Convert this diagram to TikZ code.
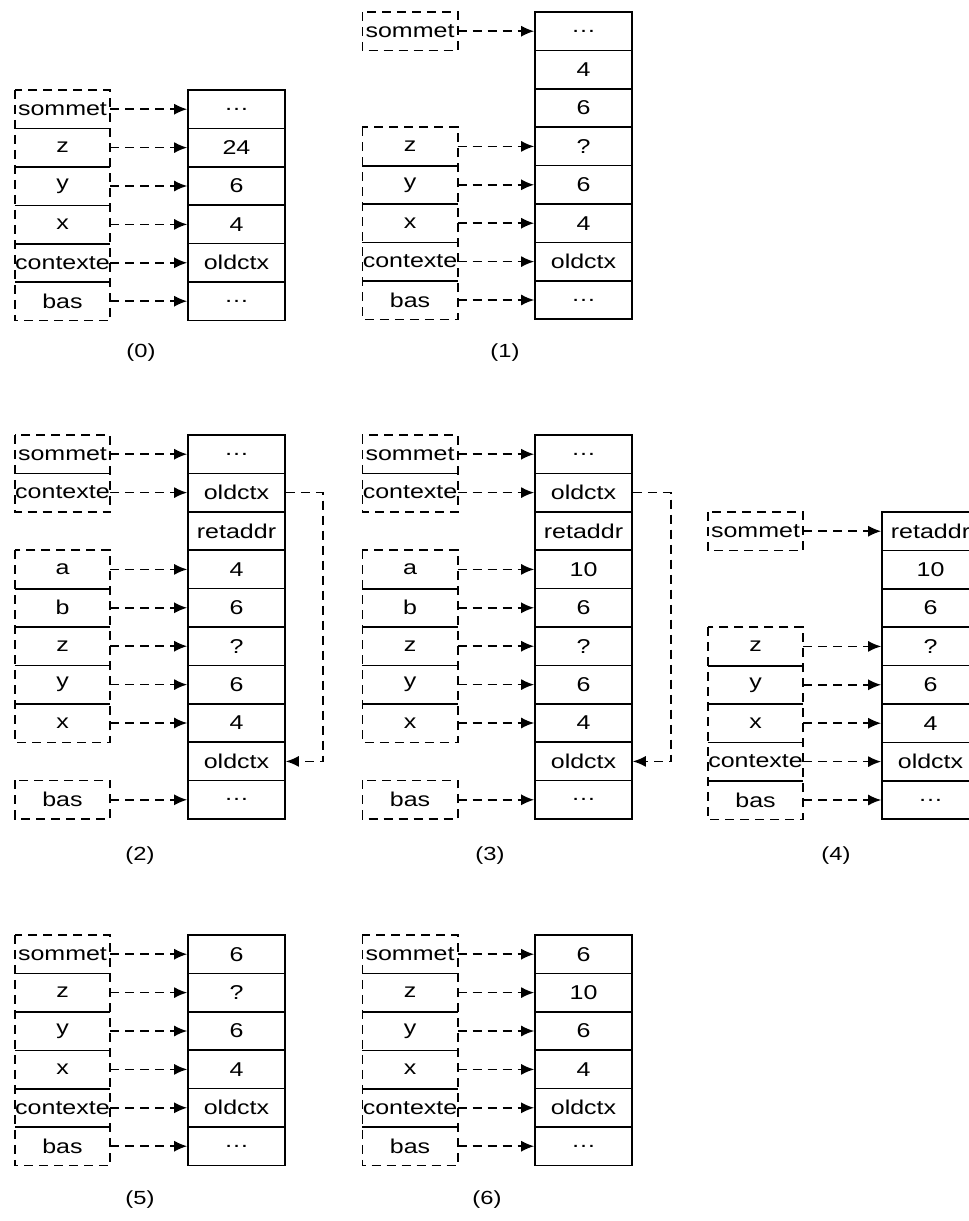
\documentclass[tikz,border=0pt]{standalone}
\usepackage{fontspec}
\setmainfont{Liberation Sans}[FakeStretch=1.25]
\usetikzlibrary{arrows.meta}

\begin{document}
\begin{tikzpicture}[
  x=1pt, y=-1pt,
  font=\fontsize{20}{22}\selectfont,
  cell/.style={draw, line width=1.6pt, minimum width=97pt, minimum height=38.4pt, inner sep=0pt},
  var/.style={minimum width=95pt, minimum height=38.4pt, inner sep=0pt},
  grp/.style={draw, dash pattern=on 9pt off 6pt, line width=1.6pt},
  sep/.style={line width=1.6pt},
  ptr/.style={dash pattern=on 9pt off 6pt, line width=1.6pt, -{Latex[length=13pt,width=11pt]}},
  lbl/.style={font=\fontsize{19}{21}\selectfont},
]
\useasboundingbox (0,0) rectangle (969,1221);
\clip (0,0) rectangle (969,1221);

% (0) before the call
\foreach \v [count=\i from 0] in {\dots,24,6,4,oldctx,\dots}
  \node[cell] (s0-\i) at (236.5,109.2+38.4*\i) {\v};
\foreach \n/\r in {sommet/0,z/1,y/2,x/3,contexte/4,bas/5} {
  \node[var] (v0-\r) at (62.5,109.2+38.4*\r) {\n};
  \draw[ptr] (v0-\r) -- (s0-\r);
}
\draw[grp] (v0-0.north west) rectangle (v0-5.south east);
\foreach \r in {0,...,4}
  \draw[sep] (v0-\r.south west) -- (v0-\r.south east);
\node[lbl] (c0) at (141,353) {(0)};

% (1) arguments pushed
\foreach \v [count=\i from 0] in {\dots,4,6,?,6,4,oldctx,\dots}
  \node[cell] (s1-\i) at (583.5,31.2+38.4*\i) {\v};
\foreach \n/\r in {sommet/0,z/3,y/4,x/5,contexte/6,bas/7} {
  \node[var] (v1-\r) at (410,31.2+38.4*\r) {\n};
  \draw[ptr] (v1-\r) -- (s1-\r);
}
\draw[grp] (v1-0.north west) rectangle (v1-0.south east);
\draw[grp] (v1-3.north west) rectangle (v1-7.south east);
\foreach \r in {3,...,6}
  \draw[sep] (v1-\r.south west) -- (v1-\r.south east);
\node[lbl] (c1) at (505,353) {(1)};

% (2) inside the callee
\foreach \v [count=\i from 0] in {\dots,oldctx,retaddr,4,6,?,6,4,oldctx,\dots}
  \node[cell] (s2-\i) at (236.5,454.2+38.4*\i) {\v};
\foreach \n/\r in {sommet/0,contexte/1,a/3,b/4,z/5,y/6,x/7,bas/9} {
  \node[var] (v2-\r) at (62.5,454.2+38.4*\r) {\n};
  \draw[ptr] (v2-\r) -- (s2-\r);
}
\draw[grp] (v2-0.north west) rectangle (v2-1.south east);
\draw[grp] (v2-3.north west) rectangle (v2-7.south east);
\draw[grp] (v2-9.north west) rectangle (v2-9.south east);
\foreach \r in {0,3,4,5,6}
  \draw[sep] (v2-\r.south west) -- (v2-\r.south east);
\draw[ptr] (s2-1.east) -- ++(37,0) |- (s2-8.east);
\node[lbl] (c2) at (140,856) {(2)};

% (3) a updated
\foreach \v [count=\i from 0] in {\dots,oldctx,retaddr,10,6,?,6,4,oldctx,\dots}
  \node[cell] (s3-\i) at (583.5,454.2+38.4*\i) {\v};
\foreach \n/\r in {sommet/0,contexte/1,a/3,b/4,z/5,y/6,x/7,bas/9} {
  \node[var] (v3-\r) at (410,454.2+38.4*\r) {\n};
  \draw[ptr] (v3-\r) -- (s3-\r);
}
\draw[grp] (v3-0.north west) rectangle (v3-1.south east);
\draw[grp] (v3-3.north west) rectangle (v3-7.south east);
\draw[grp] (v3-9.north west) rectangle (v3-9.south east);
\foreach \r in {0,3,4,5,6}
  \draw[sep] (v3-\r.south west) -- (v3-\r.south east);
\draw[ptr] (s3-1.east) -- ++(38,0) |- (s3-8.east);
\node[lbl] (c3) at (490,856) {(3)};

% (4) back in the caller
\foreach \v [count=\i from 0] in {retaddr,10,6,?,6,4,oldctx,\dots}
  \node[cell] (s4-\i) at (930.5,531.2+38.4*\i) {\v};
\foreach \n/\r in {sommet/0,z/3,y/4,x/5,contexte/6,bas/7} {
  \node[var] (v4-\r) at (755.5,531.2+38.4*\r) {\n};
  \draw[ptr] (v4-\r) -- (s4-\r);
}
\draw[grp] (v4-0.north west) rectangle (v4-0.south east);
\draw[grp] (v4-3.north west) rectangle (v4-7.south east);
\foreach \r in {3,...,6}
  \draw[sep] (v4-\r.south west) -- (v4-\r.south east);
\node[lbl] (c4) at (836,856) {(4)};

% (5) result on top
\foreach \v [count=\i from 0] in {6,?,6,4,oldctx,\dots}
  \node[cell] (s5-\i) at (236.5,954.2+38.4*\i) {\v};
\foreach \n/\r in {sommet/0,z/1,y/2,x/3,contexte/4,bas/5} {
  \node[var] (v5-\r) at (62.5,954.2+38.4*\r) {\n};
  \draw[ptr] (v5-\r) -- (s5-\r);
}
\draw[grp] (v5-0.north west) rectangle (v5-5.south east);
\foreach \r in {0,...,4}
  \draw[sep] (v5-\r.south west) -- (v5-\r.south east);
\node[lbl] (c5) at (140,1200) {(5)};

% (6) z assigned
\foreach \v [count=\i from 0] in {6,10,6,4,oldctx,\dots}
  \node[cell] (s6-\i) at (583.5,954.2+38.4*\i) {\v};
\foreach \n/\r in {sommet/0,z/1,y/2,x/3,contexte/4,bas/5} {
  \node[var] (v6-\r) at (410,954.2+38.4*\r) {\n};
  \draw[ptr] (v6-\r) -- (s6-\r);
}
\draw[grp] (v6-0.north west) rectangle (v6-5.south east);
\foreach \r in {0,...,4}
  \draw[sep] (v6-\r.south west) -- (v6-\r.south east);
\node[lbl] (c6) at (487,1200) {(6)};
\end{tikzpicture}
\end{document}
